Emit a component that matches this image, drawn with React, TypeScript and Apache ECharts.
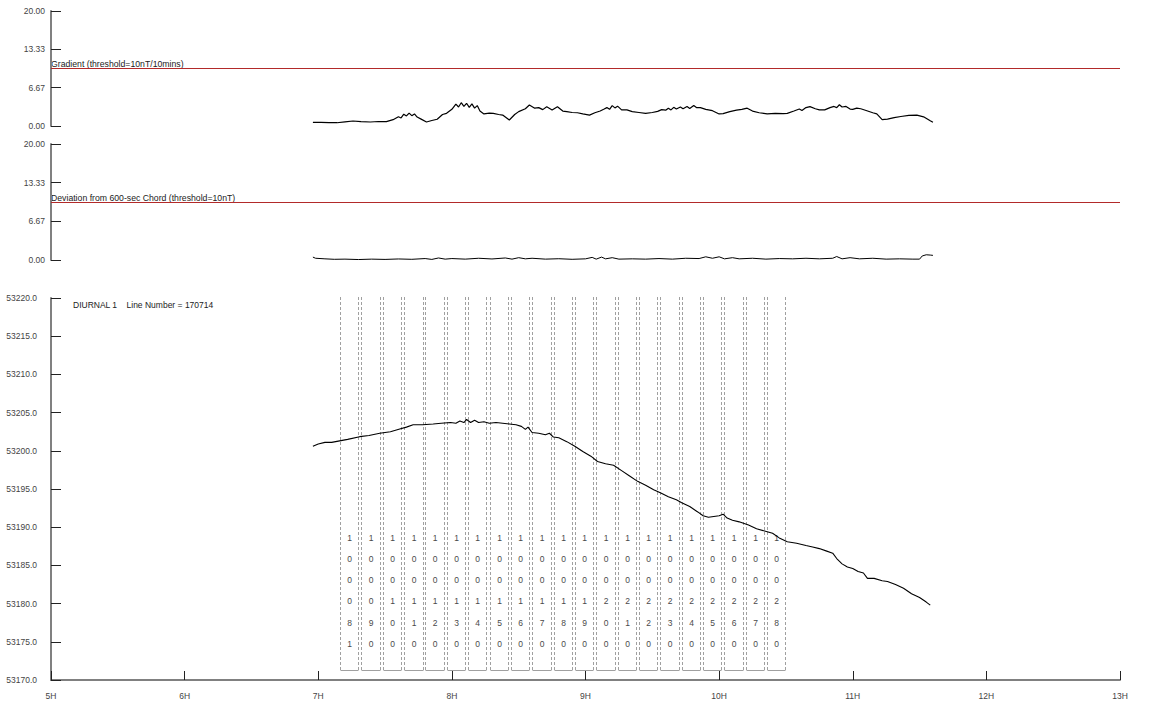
import React, { useEffect, useRef } from "react";
import * as echarts from "echarts";

// ---- data ----
const HOUR_TICKS = [5, 6, 7, 8, 9, 10, 11, 12, 13];

const gradTimes = [6.96, 7.02, 7.08, 7.14, 7.2, 7.26, 7.32, 7.39, 7.45, 7.51, 7.56, 7.6, 7.62, 7.64, 7.66, 7.68, 7.7, 7.72, 7.74, 7.77, 7.81, 7.85, 7.89, 7.93, 7.96, 8.0, 8.03, 8.05, 8.07, 8.09, 8.11, 8.13, 8.15, 8.17, 8.19, 8.21, 8.24, 8.28, 8.31, 8.35, 8.38, 8.43, 8.47, 8.5, 8.55, 8.58, 8.62, 8.65, 8.68, 8.71, 8.75, 8.79, 8.83, 8.86, 8.9, 8.94, 8.98, 9.03, 9.07, 9.11, 9.14, 9.16, 9.18, 9.2, 9.22, 9.24, 9.27, 9.31, 9.35, 9.4, 9.45, 9.5, 9.54, 9.57, 9.6, 9.62, 9.64, 9.66, 9.68, 9.71, 9.73, 9.76, 9.78, 9.81, 9.83, 9.86, 9.9, 9.95, 10.0, 10.03, 10.08, 10.13, 10.17, 10.21, 10.25, 10.3, 10.36, 10.42, 10.48, 10.51, 10.56, 10.6, 10.62, 10.65, 10.68, 10.72, 10.75, 10.79, 10.83, 10.86, 10.88, 10.9, 10.92, 10.95, 10.98, 11.0, 11.03, 11.06, 11.1, 11.15, 11.18, 11.22, 11.26, 11.31, 11.36, 11.42, 11.48, 11.53, 11.58, 11.6];
const gradValues = [0.64, 0.62, 0.58, 0.57, 0.72, 0.87, 0.75, 0.7, 0.78, 0.75, 1.1, 1.6, 1.4, 2.05, 1.75, 2.25, 1.8, 2.1, 1.55, 1.2, 0.7, 0.95, 1.17, 2.0, 2.2, 2.9, 3.8, 3.3, 4.05, 3.4, 3.95, 3.25, 3.85, 3.1, 3.55, 2.6, 2.1, 2.25, 2.2, 2.0, 1.9, 1.04, 2.0, 2.5, 3.0, 3.65, 3.1, 3.2, 2.85, 3.36, 2.8, 3.36, 2.6, 2.5, 2.35, 2.3, 2.1, 1.9, 2.3, 2.6, 2.95, 3.2, 2.9, 3.55, 3.15, 3.45, 2.8, 2.8, 2.5, 2.35, 2.2, 2.35, 2.55, 2.85, 2.75, 3.1, 2.8, 3.25, 2.95, 3.3, 3.0, 3.4, 3.05, 3.55, 3.2, 3.2, 2.9, 2.66, 2.1, 2.15, 2.5, 2.75, 2.9, 3.1, 2.6, 2.3, 2.1, 2.2, 2.15, 2.2, 2.6, 2.95, 2.7, 3.2, 3.36, 3.0, 2.8, 2.8, 3.2, 3.4, 3.2, 3.7, 3.3, 3.4, 2.95, 2.9, 3.1, 3.0, 2.7, 2.3, 2.1, 1.1, 1.2, 1.45, 1.65, 1.85, 1.9, 1.6, 0.9, 0.64];

const devTimes = [6.96, 6.98, 7.05, 7.12, 7.2, 7.3, 7.4, 7.5, 7.6, 7.7, 7.8, 7.85, 7.9, 7.95, 8.0, 8.1, 8.2, 8.3, 8.4, 8.45, 8.5, 8.55, 8.6, 8.7, 8.8, 8.9, 9.0, 9.05, 9.08, 9.12, 9.15, 9.2, 9.25, 9.35, 9.45, 9.55, 9.65, 9.75, 9.85, 9.9, 9.95, 10.0, 10.04, 10.1, 10.15, 10.25, 10.35, 10.45, 10.55, 10.65, 10.75, 10.85, 10.88, 10.92, 10.98, 11.05, 11.15, 11.25, 11.35, 11.45, 11.5, 11.52, 11.55, 11.58, 11.6];
const devValues = [0.5, 0.3, 0.2, 0.12, 0.15, 0.08, 0.15, 0.1, 0.18, 0.12, 0.25, 0.1, 0.35, 0.15, 0.25, 0.15, 0.3, 0.18, 0.35, 0.15, 0.4, 0.2, 0.3, 0.15, 0.22, 0.12, 0.2, 0.45, 0.15, 0.5, 0.2, 0.4, 0.15, 0.2, 0.15, 0.25, 0.15, 0.3, 0.25, 0.55, 0.3, 0.55, 0.2, 0.4, 0.2, 0.3, 0.15, 0.25, 0.2, 0.3, 0.2, 0.3, 0.6, 0.2, 0.4, 0.2, 0.3, 0.15, 0.2, 0.15, 0.15, 0.7, 0.9, 0.85, 0.8];

const diurnalTimes = [6.96, 7.0, 7.05, 7.1, 7.16, 7.22, 7.31, 7.38, 7.46, 7.54, 7.61, 7.66, 7.71, 7.78, 7.86, 7.92, 7.99, 8.03, 8.06, 8.09, 8.11, 8.14, 8.17, 8.2, 8.24, 8.28, 8.33, 8.38, 8.43, 8.48, 8.52, 8.55, 8.57, 8.6, 8.65, 8.7, 8.73, 8.76, 8.8, 8.86, 8.92, 8.98, 9.04, 9.09, 9.15, 9.21, 9.27, 9.33, 9.39, 9.45, 9.51, 9.56, 9.62, 9.68, 9.72, 9.78, 9.84, 9.88, 9.92, 9.96, 10.0, 10.03, 10.06, 10.1, 10.15, 10.22, 10.28, 10.34, 10.4, 10.45, 10.51, 10.58, 10.65, 10.7, 10.75, 10.8, 10.85, 10.88, 10.92, 10.96, 11.0, 11.04, 11.08, 11.11, 11.16, 11.22, 11.26, 11.32, 11.38, 11.44, 11.5, 11.55, 11.58];
const diurnalValues = [53200.6, 53200.9, 53201.1, 53201.1, 53201.3, 53201.5, 53201.85, 53202.0, 53202.3, 53202.5, 53202.85, 53203.1, 53203.4, 53203.4, 53203.5, 53203.6, 53203.7, 53203.6, 53203.9, 53203.7, 53204.1, 53203.7, 53204.0, 53203.7, 53203.8, 53203.6, 53203.7, 53203.6, 53203.5, 53203.4, 53203.2, 53202.8, 53203.1, 53202.4, 53202.3, 53202.1, 53202.3, 53201.8, 53201.7, 53201.2, 53200.6, 53199.9, 53199.3, 53198.6, 53198.3, 53198.1, 53197.4, 53196.7, 53196.0, 53195.5, 53194.9, 53194.5, 53194.0, 53193.6, 53193.2, 53192.7, 53192.0, 53191.5, 53191.3, 53191.4, 53191.5, 53191.7, 53191.2, 53190.9, 53190.7, 53190.3, 53189.8, 53189.5, 53189.2, 53188.6, 53188.1, 53187.9, 53187.6, 53187.4, 53187.2, 53186.9, 53186.6, 53185.9, 53185.2, 53184.8, 53184.6, 53184.2, 53184.0, 53183.3, 53183.3, 53183.0, 53182.9, 53182.5, 53182.0, 53181.3, 53180.8, 53180.2, 53179.8];

const lineLabels = ["100081", "100090", "100100", "100110", "100120", "100130", "100140", "100150", "100160", "100170", "100180", "100190", "100200", "100210", "100220", "100230", "100240", "100250", "100260", "100270", "100280"];
const lineStarts = [7.163, 7.323, 7.482, 7.643, 7.802, 7.962, 8.121, 8.282, 8.441, 8.601, 8.761, 8.921, 9.08, 9.24, 9.4, 9.56, 9.719, 9.879, 10.039, 10.199, 10.358];
const lineEnds = [7.301, 7.461, 7.62, 7.781, 7.94, 8.1, 8.259, 8.42, 8.579, 8.739, 8.899, 9.059, 9.218, 9.378, 9.538, 9.698, 9.857, 10.017, 10.177, 10.337, 10.496];

const GRAD_TITLE = "Gradient (threshold=10nT/10mins)";
const DEV_TITLE = "Deviation from 600-sec Chord (threshold=10nT)";
const DIURNAL_TITLE = "DIURNAL 1    Line Number = 170714";
const THRESHOLD = 10;

export default function App() {
  const ref = useRef<HTMLDivElement>(null);
  useEffect(() => {
    document.body.style.margin = "0";
    document.body.style.overflow = "hidden";
    const chart = echarts.init(ref.current!, null, { renderer: "svg" });
    const font = "Liberation Sans, Arial, sans-serif";
    const axisLineStyle = { color: "#808080", width: 2 };
    const tickStyle = { color: "#222", width: 1 };
    const smallY = (idx: number) => ({
      gridIndex: idx,
      type: "value",
      min: 0,
      max: 20,
      interval: 20 / 3,
      axisLine: { show: true, lineStyle: axisLineStyle },
      axisTick: { show: true, inside: true, length: 10, lineStyle: tickStyle },
      axisLabel: { color: "#444", fontSize: 8.5, fontFamily: font, margin: 6, formatter: (v: number) => v.toFixed(2) },
      splitLine: { show: false },
    });
    const hiddenX = (idx: number) => ({ gridIndex: idx, type: "value", min: 5, max: 13, show: false });
    const pairs = (t: number[], v: number[]) => t.map((x, i) => [x, v[i]]);
    const thresholdLine = {
      silent: true,
      symbol: "none",
      label: { show: false },
      lineStyle: { color: "#b22a2a", width: 1, type: "solid" },
      data: [{ yAxis: THRESHOLD }],
    };

    chart.setOption({
      animation: false,
      backgroundColor: "#fff",
      grid: [
        { left: 51, right: 29, top: 11, height: 115 },
        { left: 51, right: 29, top: 144, height: 116 },
        { left: 51, right: 29, top: 298, height: 382 },
      ],
      xAxis: [
        hiddenX(0),
        hiddenX(1),
        {
          gridIndex: 2,
          type: "value",
          min: 5,
          max: 13,
          interval: 1,
          axisLine: { show: true, lineStyle: axisLineStyle },
          axisTick: { show: true, inside: true, length: 9, lineStyle: tickStyle },
          axisLabel: { color: "#444", fontSize: 8.5, fontFamily: font, margin: 11, formatter: (v: number) => (HOUR_TICKS.includes(v) ? v + "H" : "") },
          splitLine: { show: false },
        },
      ],
      yAxis: [
        smallY(0),
        smallY(1),
        {
          gridIndex: 2,
          type: "value",
          min: 53170,
          max: 53220,
          interval: 5,
          axisLine: { show: true, lineStyle: axisLineStyle },
          axisTick: { show: true, inside: true, length: 10, lineStyle: tickStyle },
          axisLabel: { color: "#444", fontSize: 8.5, fontFamily: font, margin: 14, formatter: (v: number) => v.toFixed(1) },
          splitLine: { show: false },
        },
      ],
      graphic: [
        { type: "text", left: 51, top: 59, style: { text: GRAD_TITLE, fill: "#222", fontSize: 8.7, fontFamily: font } },
        { type: "text", left: 51, top: 193, style: { text: DEV_TITLE, fill: "#222", fontSize: 8.7, fontFamily: font } },
        { type: "text", left: 73, top: 300, style: { text: DIURNAL_TITLE, fill: "#222", fontSize: 8.5, fontFamily: font, whiteSpace: "pre" } },
      ],
      series: [
        {
          type: "line",
          xAxisIndex: 0,
          yAxisIndex: 0,
          data: pairs(gradTimes, gradValues),
          showSymbol: false,
          lineStyle: { color: "#000", width: 1.2 },
          markLine: thresholdLine,
        },
        {
          type: "line",
          xAxisIndex: 1,
          yAxisIndex: 1,
          data: pairs(devTimes, devValues),
          showSymbol: false,
          lineStyle: { color: "#000", width: 1 },
          markLine: thresholdLine,
        },
        {
          type: "custom",
          xAxisIndex: 2,
          yAxisIndex: 2,
          data: lineStarts.map((s, i) => [s, lineEnds[i]]),
          renderItem: (params: any, api: any) => {
            const s = api.value(0);
            const e = api.value(1);
            const p1 = api.coord([s, 53220]);
            const p2 = api.coord([e, 53220]);
            const xa = Math.round(p1[0]) + 0.5;
            const xb = Math.round(p2[0]) + 0.5;
            const yTop = Math.round(p1[1]) - 1;
            const yBot = Math.round(api.coord([s, 53171.3])[1]) + 0.5;
            const label = lineLabels[params.dataIndex];
            const cx = (xa + xb) / 2;
            const dash = { stroke: "#a0a0a0", lineWidth: 1, lineDash: [3, 2] };
            const children: any[] = [
              { type: "line", shape: { x1: xa, y1: yTop, x2: xa, y2: yBot }, style: dash },
              { type: "line", shape: { x1: xb, y1: yTop, x2: xb, y2: yBot }, style: dash },
              { type: "line", shape: { x1: xa, y1: yBot, x2: xb, y2: yBot }, style: { stroke: "#a0a0a0", lineWidth: 1 } },
            ];
            label.split("").forEach((d, k) => {
              children.push({
                type: "text",
                style: {
                  text: d,
                  x: cx,
                  y: yBot - 133 + k * 21.3,
                  align: "center",
                  verticalAlign: "middle",
                  fill: "#4a4a4a",
                  fontSize: 8.5,
                  fontFamily: font,
                },
              });
            });
            return { type: "group", children };
          },
          z: 1,
        },
        {
          type: "line",
          xAxisIndex: 2,
          yAxisIndex: 2,
          data: pairs(diurnalTimes, diurnalValues),
          showSymbol: false,
          lineStyle: { color: "#000", width: 1.1 },
          z: 3,
        },
      ],
    });
    return () => chart.dispose();
  }, []);
  return <div ref={ref} style={{ width: 1149, height: 701 }} />;
}
